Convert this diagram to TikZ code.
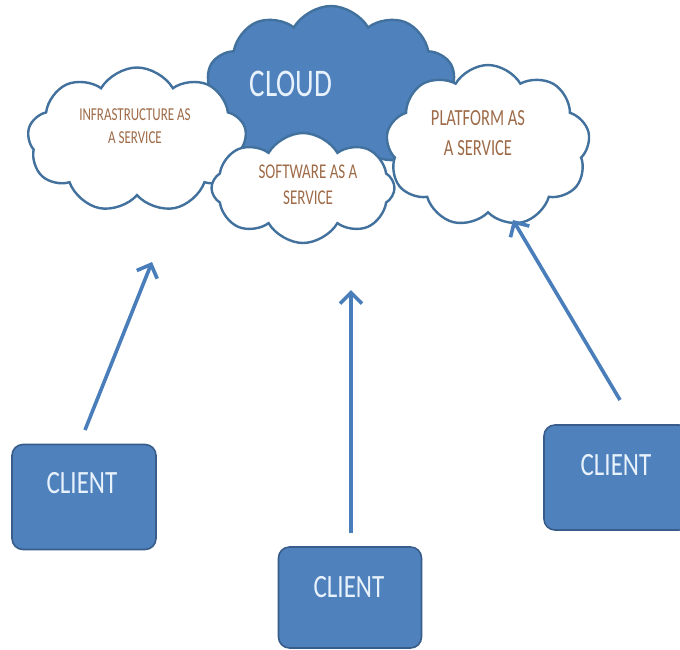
\documentclass[tikz,border=0pt]{standalone}
\usepackage{fontspec}
\setmainfont{Carlito}
\usetikzlibrary{shapes.symbols,arrows.meta}
\definecolor{fillblue}{HTML}{4F81BD}
\definecolor{edgeblue}{HTML}{41719C}
\definecolor{boxedge}{HTML}{385D8A}
\definecolor{txtbrown}{HTML}{9E6B48}
\definecolor{clienttxt}{HTML}{E8F2FC}
\definecolor{arrblue}{HTML}{4A7EBB}
\begin{document}
\begin{tikzpicture}[x=1pt,y=-1pt,
  puff/.style={cloud, cloud puffs=#1, cloud puff arc=120, draw=edgeblue, line width=2.4pt, inner sep=0pt},
  whitecloud/.style={puff=#1, fill=white},
  bluecloud/.style={puff=#1, fill=fillblue},
  clientbox/.style={draw=boxedge, line width=1.6pt, fill=fillblue, rounded corners=11pt, inner sep=0pt},
  clientlbl/.style={text=clienttxt, inner sep=0pt, yscale=1.3, font=\fontsize{25}{25}\selectfont},
  cloudlbl/.style={text=txtbrown, inner sep=0pt, align=center, yscale=1.4},
  arr/.style={draw=arrblue, line width=3.6pt, -{Straight Barb[length=11pt,width=22pt]}}
]
\useasboundingbox[fill=white] (0,0) rectangle (680,649);

% clouds
\node[bluecloud=10, minimum width=252pt, minimum height=168pt] (cloud) at (331,90) {};
\node[text=clienttxt, inner sep=0pt, yscale=1.35, font=\fontsize{29}{29}\selectfont] (cloudtxt) at (291,84) {CLOUD};
\node[whitecloud=9, minimum width=219pt, minimum height=145pt] (iaas) at (137,140) {};
\node[whitecloud=8, minimum width=183pt, minimum height=110pt] (saas) at (303,188) {};
\node[whitecloud=9, minimum width=204pt, minimum height=162pt] (paas) at (488,146) {};

\node[cloudlbl, font=\fontsize{13}{16.5}\selectfont] (iaastxt) at (135,126) {INFRASTRUCTURE AS\\A SERVICE};
\node[cloudlbl, font=\fontsize{15}{18.5}\selectfont] (saastxt) at (308,185) {SOFTWARE AS A\\SERVICE};
\node[cloudlbl, font=\fontsize{16.5}{21.5}\selectfont] (paastxt) at (478,133) {PLATFORM AS\\A SERVICE};

% clients
\node[clientbox, minimum width=144pt, minimum height=105pt] (cl1) at (84,497) {};
\node[clientlbl] (cl1txt) at (82,483) {CLIENT};
\node[clientbox, minimum width=143pt, minimum height=101pt] (cl2) at (350,597.5) {};
\node[clientlbl] (cl2txt) at (349,587) {CLIENT};
\node[clientbox, minimum width=146pt, minimum height=105pt] (cl3) at (617,477.5) {};
\node[clientlbl] (cl3txt) at (616,465) {CLIENT};

% arrows
\coordinate (s1) at (85,430);  \coordinate (t1) at (152,262);
\coordinate (s2) at (351,533); \coordinate (t2) at (351,290);
\coordinate (s3) at (620,400); \coordinate (t3) at (513,220);
\draw[arr] (s1) -- (t1);
\draw[arr] (s2) -- (t2);
\draw[arr] (s3) -- (t3);
\end{tikzpicture}
\end{document}
